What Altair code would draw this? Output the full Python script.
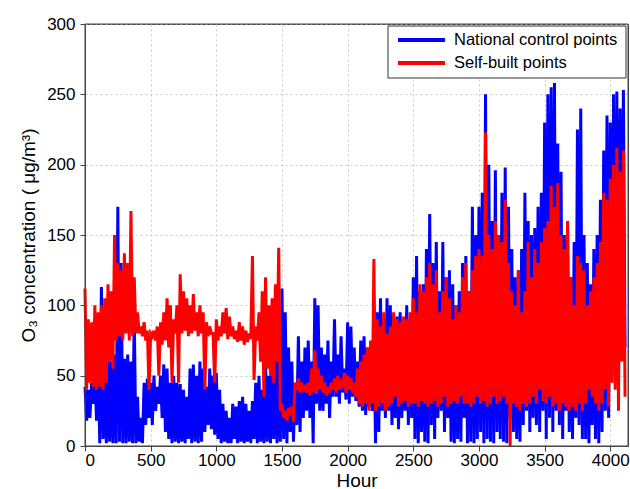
import altair as alt
import pandas as pd

# Envelope readings, one value per 25 hours (highs and lows of the daily cycle)
nat_hi = [42, 40, 45, 58, 60, 113, 55, 62, 60, 65, 170, 130, 62, 65, 60, 92,
          35, 20, 45, 48, 45, 50, 42, 50, 58, 55, 45, 50, 45, 44, 40, 35,
          55, 58, 50, 60, 55, 42, 55, 50, 52, 40, 30, 25, 20, 30, 28, 32,
          35, 30, 25, 32, 45, 50, 40, 60, 50, 62, 68, 70, 112, 95, 70, 60,
          45, 78, 60, 70, 75, 60, 105, 100, 70, 65, 75, 60, 90, 65, 78, 55,
          88, 85, 70, 60, 75, 78, 70, 65, 80, 95, 105, 90, 105, 100, 85, 92,
          95, 85, 100, 90, 120, 135, 110, 115, 140, 165, 130, 145, 110, 145, 120, 125,
          115, 100, 110, 130, 135, 110, 170, 150, 170, 180, 250, 200, 160, 196, 150, 180,
          198, 170, 140, 120, 125, 140, 180, 160, 150, 155, 170, 180, 230, 250, 255, 258,
          215, 195, 150, 155, 120, 145, 225, 240, 150, 130, 115, 140, 150, 175, 210, 235,
          230, 250, 252, 240, 253]
nat_lo = [18, 20, 30, 18, 2, 5, 2, 3, 2, 2, 3, 2, 2, 3, 2, 2,
          3, 2, 15, 20, 15, 25, 30, 20, 10, 5, 2, 3, 2, 3, 2, 5,
          2, 3, 2, 3, 10, 15, 12, 8, 5, 2, 3, 2, 2, 5, 2, 3,
          2, 3, 2, 5, 2, 3, 2, 3, 2, 5, 2, 3, 5, 2, 10, 3,
          15, 10, 20, 25, 20, 2, 30, 25, 25, 30, 20, 35, 35, 30, 38, 33,
          30, 35, 32, 28, 25, 22, 28, 25, 2, 10, 25, 20, 25, 15, 20, 12,
          20, 25, 15, 20, 5, 2, 10, 3, 2, 15, 5, 20, 25, 10, 20, 3,
          2, 5, 3, 20, 2, 3, 2, 5, 10, 2, 5, 3, 2, 10, 5, 3,
          2, 20, 10, 5, 3, 15, 25, 10, 20, 15, 10, 25, 5, 20, 10, 25,
          15, 5, 25, 10, 5, 20, 15, 5, 5, 2, 15, 5, 2, 10, 25, 20,
          60, 50, 65, 80, 70]
self_hi = [112, 90, 88, 100, 95, 100, 105, 115, 110, 150, 130, 125, 137, 130, 167, 120,
           95, 85, 88, 82, 80, 82, 85, 88, 95, 105, 100, 90, 100, 122, 110, 105,
           100, 108, 95, 100, 95, 88, 85, 80, 90, 85, 95, 98, 92, 85, 82, 88,
           85, 82, 80, 135, 85, 95, 110, 120, 100, 105, 115, 141, 30, 25, 27, 28,
           45, 48, 45, 42, 45, 55, 68, 55, 50, 45, 42, 45, 48, 50, 45, 52,
           50, 48, 45, 55, 60, 65, 70, 75, 133, 90, 85, 95, 80, 85, 95, 90,
           88, 92, 90, 95, 105, 95, 115, 110, 120, 130, 115, 125, 95, 110, 120, 105,
           90, 100, 95, 120, 130, 110, 125, 135, 140, 135, 223, 150, 140, 160, 150, 145,
           175, 130, 110, 100, 125, 95, 110, 145, 120, 140, 130, 145, 155, 160, 185, 170,
           187, 150, 140, 160, 120, 100, 135, 130, 125, 100, 110, 120, 130, 145, 180, 175,
           190, 200, 212, 195, 210]
self_lo = [40, 45, 42, 40, 42, 40, 45, 60, 55, 75, 78, 75, 80, 75, 78, 80,
           80, 78, 75, 40, 78, 75, 50, 72, 75, 70, 45, 80, 45, 80, 82, 78,
           80, 82, 78, 80, 40, 78, 80, 45, 75, 78, 80, 76, 78, 76, 74, 75,
           72, 74, 76, 47, 75, 60, 35, 55, 50, 45, 60, 25, 20, 18, 22, 17,
           40, 38, 40, 38, 36, 38, 37, 40, 38, 36, 38, 40, 38, 40, 42, 38,
           40, 38, 35, 30, 28, 30, 25, 30, 25, 28, 30, 25, 28, 30, 35, 28,
           30, 32, 28, 30, 30, 28, 32, 30, 28, 30, 32, 28, 30, 35, 28, 30,
           32, 30, 35, 30, 30, 28, 30, 35, 30, 32, 28, 30, 35, 30, 32, 35,
           30, 0, 30, 28, 25, 30, 28, 30, 35, 30, 40, 32, 30, 35, 28, 30,
           25, 30, 28, 25, 28, 25, 30, 25, 30, 40, 35, 30, 25, 30, 40, 28,
           45, 40, 25, 60, 35]

STEP = 25
series_names = ["National control points", "Self-built points"]
series_colors = ["#0000ff", "#ff0000"]


def build(hi, lo, name):
    rows = []
    for i, (h, l) in enumerate(zip(hi, lo)):
        rows.append({"hour": i * STEP, "value": h, "series": name})
        rows.append({"hour": i * STEP + STEP / 2, "value": l, "series": name})
    return pd.DataFrame(rows)


nat = build(nat_hi, nat_lo, series_names[0])
slf = build(self_hi, self_lo, series_names[1])

FONT = "Liberation Sans"
W, H = 543, 422

x = alt.X("hour:Q", title="Hour",
          scale=alt.Scale(domain=[0, 4135], nice=False, zero=False),
          axis=alt.Axis(values=list(range(0, 4001, 500)), format="d"))
y = alt.Y("value:Q", title="O₃ concentration ( μg/m³)",
          scale=alt.Scale(domain=[0, 300], nice=False),
          axis=alt.Axis(values=list(range(0, 301, 50))))
color = alt.Color("series:N",
                  scale=alt.Scale(domain=series_names, range=series_colors),
                  legend=None)

blue = alt.Chart(nat).mark_line(strokeWidth=3, strokeJoin="miter").encode(x=x, y=y, color=color)
red = alt.Chart(slf).mark_line(strokeWidth=3, strokeJoin="miter").encode(x=x, y=y, color=color)

one = pd.DataFrame({"a": [0]})
# solid frame around the plot area, drawn over the grid
frame = alt.Chart(one).mark_rect(fill=None, stroke="#444444", strokeWidth=1).encode(
    x=alt.value(0), x2=alt.value(W), y=alt.value(0), y2=alt.value(H))

# Legend (box, line samples, labels) drawn in pixel space at the top right
box = alt.Chart(one).mark_rect(
    fill="#ffffff", stroke="#333333", strokeWidth=1
).encode(x=alt.value(303), x2=alt.value(541), y=alt.value(2), y2=alt.value(54))
sample1 = alt.Chart(one).mark_rule(strokeWidth=4, color=series_colors[0]).encode(
    x=alt.value(313), x2=alt.value(360), y=alt.value(16))
sample2 = alt.Chart(one).mark_rule(strokeWidth=4, color=series_colors[1]).encode(
    x=alt.value(313), x2=alt.value(360), y=alt.value(39))
label1 = alt.Chart(pd.DataFrame({"t": [series_names[0]]})).mark_text(
    align="left", baseline="middle", font=FONT, fontSize=16.5, color="#000000"
).encode(x=alt.value(369), y=alt.value(16), text="t:N")
label2 = alt.Chart(pd.DataFrame({"t": [series_names[1]]})).mark_text(
    align="left", baseline="middle", font=FONT, fontSize=16.5, color="#000000"
).encode(x=alt.value(369), y=alt.value(39), text="t:N")

chart = alt.layer(blue, red, frame, box, sample1, sample2, label1, label2).properties(
    width=W, height=H,
    background="#ffffff",
    autosize=alt.AutoSizeParams(type="none"),
    padding={"left": 85, "top": 24, "right": 2, "bottom": 43},
).configure_view(
    stroke="#444444", strokeWidth=1
).configure_axis(
    labelFont=FONT, titleFont=FONT, labelFontSize=17, labelColor="#000000",
    titleColor="#000000", titleFontWeight="normal",
    domainColor="#444444", tickColor="#444444", tickSize=5,
    grid=True, gridColor="#c8c8c8", gridDash=[2, 3], gridWidth=1,
).configure_axisX(
    labelPadding=1, titleFontSize=19, titlePadding=3,
).configure_axisY(
    labelPadding=5, titleFontSize=19, titlePadding=8,
)

chart.save("out.html", embed_options={"renderer": "svg", "actions": False})
